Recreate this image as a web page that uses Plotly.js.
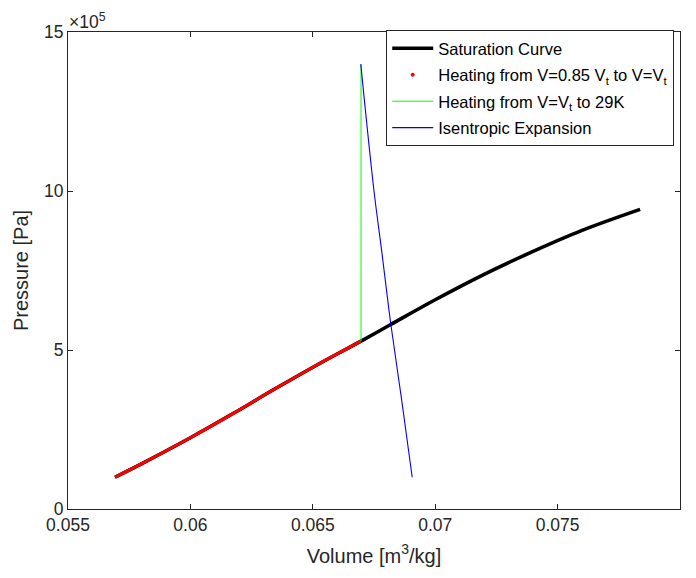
<!DOCTYPE html>
<html>
<head>
<meta charset="utf-8">
<script src="https://cdn.plot.ly/plotly-3.0.1.min.js"></script>
<style>html,body{margin:0;padding:0;background:#fff;}#chart{width:696px;height:578px;}</style>
</head>
<body>
<div id="chart"></div>
<script>
// Saturation curve (volume m^3/kg, pressure Pa)
const satV = [0.05692, 0.05800, 0.06000, 0.06174, 0.06337, 0.06517, 0.06697, 0.06818, 0.07000, 0.07200, 0.07400, 0.07600, 0.07837];
const satP = [1.00e5, 1.42e5, 2.24e5, 3.00e5, 3.74e5, 4.53e5, 5.28e5, 5.80e5, 6.58e5, 7.38e5, 8.10e5, 8.76e5, 9.42e5];
// Heating from V=0.85 Vt to V=Vt (red)
const heatV = [0.05692, 0.05800, 0.06000, 0.06174, 0.06337, 0.06517, 0.06697];
const heatP = [1.00e5, 1.42e5, 2.24e5, 3.00e5, 3.74e5, 4.53e5, 5.28e5];
// Heating from V=Vt to 29K (green)
const heat2V = [0.06697, 0.06697];
const heat2P = [5.28e5, 13.99e5];
// Isentropic expansion (blue)
const isoV = [0.06696, 0.06750, 0.06781, 0.06818, 0.06863, 0.06906];
const isoP = [13.99e5, 10.0e5, 8.14e5, 5.85e5, 3.43e5, 1.00e5];

const xTicks = [0.055, 0.06, 0.065, 0.07, 0.075, 0.08];
const xTickText = ['0.055', '0.06', '0.065', '0.07', '0.075', '0.08'];
const yTicks = [0, 5e5, 10e5, 15e5];
const yTickText = ['0', '5', '10', '15'];

const FONT = 'Arial, "Liberation Sans", Helvetica, sans-serif';
const AX = '#262626';

const traces = [
  {x: satV, y: satP, mode: 'lines', name: 'Saturation Curve',
   line: {color: '#000000', width: 3.5, shape: 'spline'}, legendgroup: 's'},
  {x: heatV, y: heatP, mode: 'lines', name: 'Heating from V=0.85 V<sub>t</sub> to V=V<sub>t</sub>',
   line: {color: '#ff0000', width: 3, shape: 'spline'}, showlegend: false, legendgroup: 'h'},
  {x: [null], y: [null], mode: 'markers', name: 'Heating from V=0.85 V<sub>t</sub> to V=V<sub>t</sub>',
   marker: {color: '#ff0000', size: 4}, legendgroup: 'h'},
  {x: heat2V, y: heat2P, mode: 'lines', name: 'Heating from V=V<sub>t</sub> to 29K',
   line: {color: '#00ff00', width: 1}, legendgroup: 'g'},
  {x: isoV, y: isoP, mode: 'lines', name: 'Isentropic Expansion',
   line: {color: '#0000ff', width: 1.1, shape: 'spline'}, legendgroup: 'b'}
];

const layout = {
  width: 696, height: 578,
  margin: {l: 68, r: 16, t: 32, b: 69},
  paper_bgcolor: '#ffffff', plot_bgcolor: '#ffffff',
  font: {family: FONT, size: 17.5, color: AX},
  showlegend: true,
  legend: {
    x: 0.52, y: 1.004, xanchor: 'left', yanchor: 'top',
    bgcolor: '#ffffff', bordercolor: AX, borderwidth: 1,
    font: {family: FONT, size: 16.5, color: '#000000'},
    tracegroupgap: 2, itemsizing: 'trace', itemwidth: 41
  },
  xaxis: {
    range: [0.055, 0.08], tickvals: xTicks, ticktext: xTickText,
    ticks: 'inside', ticklen: 5, tickcolor: AX, tickwidth: 1,
    showline: true, linecolor: AX, linewidth: 1, mirror: 'ticks',
    showgrid: false, zeroline: false,
    tickfont: {family: FONT, size: 17.5, color: AX},
    title: {text: 'Volume [m<sup>3</sup>/kg]', font: {family: FONT, size: 20, color: AX}, standoff: 14}
  },
  yaxis: {
    range: [0, 15e5], tickvals: yTicks, ticktext: yTickText,
    ticks: 'inside', ticklen: 5, tickcolor: AX, tickwidth: 1,
    showline: true, linecolor: AX, linewidth: 1, mirror: 'ticks',
    showgrid: false, zeroline: false,
    tickfont: {family: FONT, size: 17.5, color: AX},
    title: {text: 'Pressure [Pa]', font: {family: FONT, size: 20, color: AX}, standoff: 10}
  },
  annotations: [{
    xref: 'paper', yref: 'paper', x: 0, y: 1, xanchor: 'left', yanchor: 'bottom',
    xshift: -1, yshift: -2, showarrow: false,
    text: '\u00d710<sup>5</sup>', font: {family: FONT, size: 17.5, color: AX}
  }]
};

Plotly.newPlot('chart', traces, layout, {displayModeBar: false, staticPlot: true});
</script>
</body>
</html>
